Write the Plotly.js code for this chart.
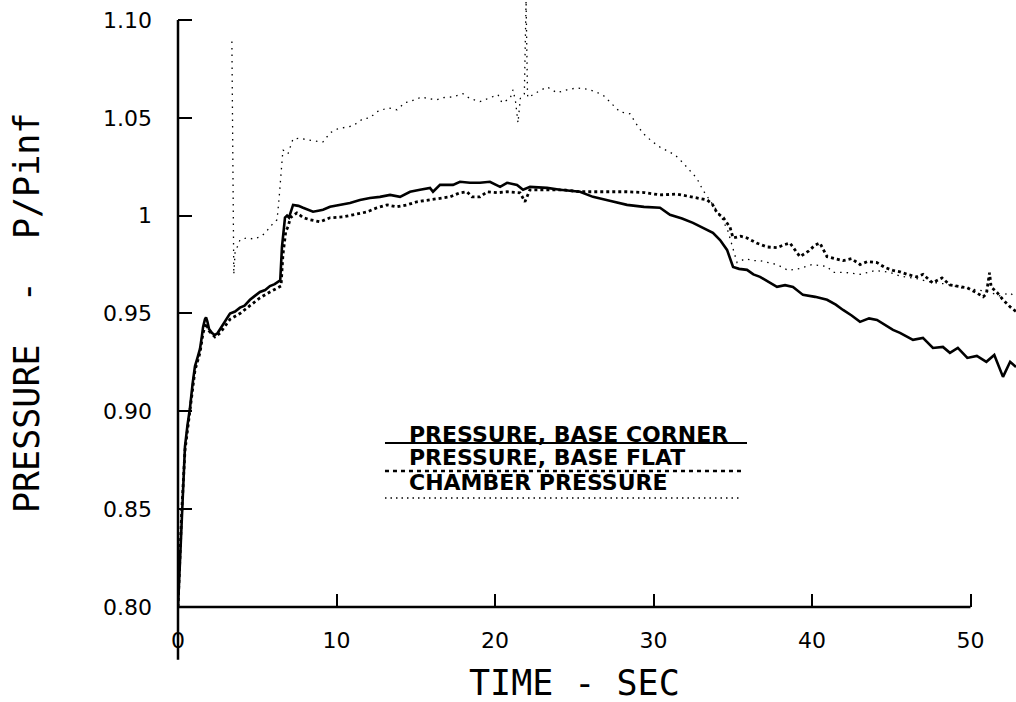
<!DOCTYPE html>
<html>
<head>
<meta charset="utf-8">
<script src="https://cdn.plot.ly/plotly-3.0.1.min.js"></script>
<style>html,body{margin:0;padding:0;background:#fff;}#chart{width:1016px;height:702px;}</style>
</head>
<body>
<div id="chart"></div>
<script>
// ---- data ----
const cornerTime = [0.00,0.08,0.15,0.23,0.33,0.44,0.60,0.76,0.92,1.07,1.25,1.39,1.50,1.58,1.70,1.77,1.85,1.96,2.15,2.33,2.50,2.65,2.95,3.28,3.60,3.91,4.20,4.54,4.85,5.17,5.50,5.80,6.10,6.31,6.45,6.56,6.68,6.75,6.88,7.00,7.26,7.60,7.89,8.20,8.52,8.85,9.15,9.59,10.22,10.85,11.48,12.11,12.74,13.38,14.01,14.64,15.27,15.90,16.09,16.53,17.35,17.79,18.42,19.05,19.68,20.32,20.76,21.39,21.77,22.21,23.28,24.10,25.36,26.18,27.30,28.33,29.40,30.41,31.04,31.80,32.49,33.10,33.75,34.20,34.64,35.02,35.40,35.90,36.30,36.72,37.20,37.79,38.30,38.80,39.43,40.20,40.95,41.50,41.96,42.50,43.03,43.60,44.10,44.60,45.11,45.55,46.37,47.00,47.63,48.26,48.70,49.20,49.80,50.40,51.00,51.50,52.05,52.50,52.87];
const cornerP = [0.800,0.815,0.832,0.848,0.866,0.882,0.893,0.902,0.914,0.923,0.928,0.932,0.938,0.943,0.947,0.948,0.946,0.942,0.940,0.939,0.940,0.942,0.946,0.950,0.951,0.953,0.954,0.957,0.959,0.961,0.962,0.964,0.965,0.966,0.967,0.984,0.996,0.999,1.000,0.999,1.0055,1.005,1.004,1.003,1.002,1.0025,1.003,1.0045,1.0055,1.0065,1.008,1.009,1.0096,1.0106,1.0096,1.0122,1.0132,1.0142,1.0122,1.0157,1.0157,1.0173,1.0168,1.0168,1.0173,1.0147,1.0168,1.0157,1.0132,1.0147,1.0142,1.0132,1.0122,1.0096,1.0075,1.0055,1.0045,1.0040,1.0004,0.9985,0.9963,0.9940,0.9912,0.9875,0.9825,0.9738,0.9728,0.9723,0.9700,0.9687,0.9665,0.9636,0.9645,0.9636,0.9595,0.9585,0.9570,0.9545,0.9518,0.9490,0.9457,0.9475,0.9467,0.9440,0.9416,0.9401,0.9365,0.9375,0.9324,0.9329,0.9299,0.9324,0.9273,0.9283,0.9253,0.9288,0.9176,0.9253,0.9227];

const flatTime = [0.00,0.10,0.23,0.44,0.76,1.07,1.39,1.58,1.77,1.96,2.33,2.65,3.28,3.91,4.54,5.17,5.80,6.31,6.50,6.62,6.80,6.94,7.10,7.50,7.90,8.33,8.96,9.59,10.41,11.04,11.92,12.55,13.19,13.82,14.45,15.08,15.90,16.53,17.16,17.79,18.23,18.55,19.05,19.50,20.13,20.76,21.58,21.89,22.20,23.28,24.29,25.36,26.18,27.30,28.33,29.40,30.41,31.50,32.49,33.38,33.70,34.01,34.40,34.83,35.02,35.50,35.90,36.50,37.16,37.79,38.20,38.61,39.24,39.80,40.20,40.50,40.95,41.96,42.50,43.03,43.50,44.10,44.60,45.11,45.55,46.00,46.60,47.00,47.60,48.20,48.70,49.20,49.80,50.40,50.80,51.00,51.20,51.30,51.70,52.05,52.50,52.87];
const flatP = [0.800,0.822,0.848,0.880,0.900,0.921,0.930,0.940,0.945,0.941,0.938,0.940,0.947,0.950,0.954,0.958,0.961,0.963,0.964,0.980,0.992,0.9943,0.999,1.0014,0.999,0.9979,0.9968,0.9989,0.9994,1.0004,1.0019,1.0040,1.0055,1.0045,1.0055,1.0071,1.0081,1.0091,1.0096,1.0117,1.0122,1.0096,1.0096,1.0122,1.0117,1.0122,1.0117,1.0071,1.0132,1.0132,1.0132,1.0122,1.0122,1.0125,1.0122,1.0118,1.0106,1.0110,1.0096,1.0080,1.0060,1.0014,0.9990,0.9940,0.9886,0.9895,0.9886,0.9860,0.9840,0.9836,0.9850,0.9860,0.9790,0.9820,0.9850,0.9860,0.9790,0.9770,0.9780,0.9750,0.9765,0.9760,0.9735,0.9720,0.9713,0.9700,0.9687,0.9700,0.9657,0.9682,0.9646,0.9640,0.9631,0.9605,0.9585,0.9600,0.9708,0.9636,0.9605,0.9570,0.9534,0.9510];

const chamberTime = [3.40,3.43,3.46,3.49,3.52,3.60,3.91,4.35,4.80,5.17,5.50,5.80,6.25,6.37,6.62,6.94,7.26,7.70,8.14,8.52,9.15,9.59,10.09,11.04,11.67,12.11,12.55,13.25,13.82,14.32,14.64,15.39,15.77,16.34,16.72,17.35,17.98,18.42,19.05,19.68,20.19,20.44,20.95,21.14,21.30,21.45,21.60,21.85,21.96,22.05,22.08,22.71,23.28,23.91,24.54,25.17,25.90,26.44,26.90,27.26,27.89,28.52,28.90,29.34,29.90,30.41,31.36,31.86,32.30,32.74,33.12,33.56,33.90,34.30,34.70,35.00,35.27,35.80,36.30,36.72,37.30,37.79,38.50,39.24,40.00,40.95,41.32,42.10,43.03,44.00,44.92,45.60,46.50,47.50,48.50,49.50,50.50,51.20,51.80,52.50,52.87];
const chamberP = [1.089,1.060,1.030,1.000,0.970,0.981,0.9876,0.9887,0.9880,0.9892,0.9910,0.9943,0.9979,1.0081,1.0336,1.0316,1.0393,1.0395,1.0388,1.0382,1.0377,1.0423,1.0444,1.0459,1.0495,1.0500,1.0531,1.0551,1.0541,1.0577,1.0583,1.0607,1.0598,1.0592,1.0603,1.0607,1.0623,1.0598,1.0583,1.0603,1.0618,1.0577,1.0598,1.0643,1.0580,1.0474,1.0600,1.0620,1.1100,1.0620,1.0603,1.0633,1.0658,1.0628,1.0643,1.0653,1.0645,1.0630,1.0610,1.0580,1.0530,1.0520,1.0470,1.0420,1.0380,1.0350,1.0310,1.0270,1.0230,1.0190,1.0130,1.0080,1.0040,0.9990,0.9920,0.9830,0.9760,0.9780,0.9770,0.9770,0.9760,0.9750,0.9720,0.9730,0.9750,0.9740,0.9710,0.9710,0.9700,0.9720,0.9710,0.9690,0.9680,0.9660,0.9650,0.9630,0.9620,0.9610,0.9590,0.9605,0.9580];

const seriesNames = ['PRESSURE, BASE CORNER', 'PRESSURE, BASE FLAT', 'CHAMBER PRESSURE'];
const xTickVals = [0, 10, 20, 30, 40, 50];
const xTickText = ['0', '10', '20', '30', '40', '50'];
const yTickVals = [0.80, 0.85, 0.90, 0.95, 1.00, 1.05, 1.10];
const yTickText = ['0.80', '0.85', '0.90', '0.95', '1', '1.05', '1.10'];
const xTitle = 'TIME - SEC';
const yTitle = 'PRESSURE  -  P/Pinf';

// ---- layout / styling ----
const xRange = [0, 52.87];
const yRange = [0.80, 1.1102];
const font = 'DejaVu Sans, Liberation Sans, sans-serif';
const monoFont = 'DejaVu Sans Mono, Liberation Mono, monospace';
const yTop = (1.10 - yRange[0]) / (yRange[1] - yRange[0]);
const x50 = (50 - xRange[0]) / (xRange[1] - xRange[0]);

const traces = [
  {x: cornerTime, y: cornerP, name: seriesNames[0], mode: 'lines', line: {color: '#000', width: 2.6}},
  {x: flatTime, y: flatP, name: seriesNames[1], mode: 'lines', line: {color: '#000', width: 2.8, dash: '3px,3px'}},
  {x: chamberTime, y: chamberP, name: seriesNames[2], mode: 'lines', line: {color: '#000', width: 1.3, dash: '1.5px,5px'}}
];

const legY = [0.2834, 0.2463, 0.2051];
const legLineY = [0.2702, 0.2241, 0.1796];
const legX0 = 0.247, legX1 = 0.679, legTextX = 0.2733;

const titleFont = {family: monoFont, size: 35, color: '#000'};
const annotations = seriesNames.map((t, i) => ({
  text: t, xref: 'paper', yref: 'paper', x: legTextX, y: legY[i],
  xanchor: 'left', yanchor: 'middle', showarrow: false,
  font: {family: font, size: 22, color: '#000', weight: 'bold'}
}));
annotations.push({text: xTitle, xref: 'paper', yref: 'paper', x: 0.4737, y: -0.1252,
  xanchor: 'center', yanchor: 'middle', showarrow: false, font: titleFont});
annotations.push({text: yTitle, xref: 'paper', yref: 'paper', x: -0.1802, y: 0.4843,
  xanchor: 'center', yanchor: 'middle', showarrow: false, textangle: -90, font: titleFont});

const layout = {
  width: 1016, height: 702,
  margin: {l: 178, r: 0, t: 0, b: 95},
  paper_bgcolor: '#fff', plot_bgcolor: '#fff',
  showlegend: false,
  font: {family: font, color: '#000'},
  xaxis: {
    range: xRange, showgrid: false, zeroline: false, showline: false,
    tickmode: 'array', tickvals: xTickVals, ticktext: xTickText,
    ticks: 'inside', ticklen: 13, tickwidth: 2, tickcolor: '#000',
    ticklabelstandoff: 18,
    tickfont: {family: font, size: 22, color: '#000'},
    automargin: false
  },
  yaxis: {
    range: yRange, showgrid: false, zeroline: false, showline: false,
    tickmode: 'array', tickvals: yTickVals, ticktext: yTickText,
    ticks: 'inside', ticklen: 14, tickwidth: 2, tickcolor: '#000',
    ticklabelstandoff: 25,
    tickfont: {family: font, size: 22, color: '#000'},
    automargin: false
  },
  shapes: [
    {type: 'line', xref: 'paper', yref: 'paper', x0: 0, x1: 0, y0: -0.087, y1: yTop, line: {color: '#000', width: 2.5}},
    {type: 'line', xref: 'paper', yref: 'paper', x0: 0, x1: x50, y0: 0, y1: 0, line: {color: '#000', width: 2.5}},
    {type: 'line', xref: 'paper', yref: 'paper', x0: legX0, x1: legX1, y0: legLineY[0], y1: legLineY[0], line: {color: '#000', width: 2}},
    {type: 'line', xref: 'paper', yref: 'paper', x0: legX0, x1: legX1 - 0.003, y0: legLineY[1], y1: legLineY[1], line: {color: '#000', width: 2.6, dash: '4px,4px'}},
    {type: 'line', xref: 'paper', yref: 'paper', x0: legX0, x1: legX1 - 0.006, y0: legLineY[2], y1: legLineY[2], line: {color: '#000', width: 1.3, dash: '1.5px,4px'}}
  ],
  annotations: annotations
};

Plotly.newPlot('chart', traces, layout, {displayModeBar: false, staticPlot: true});
</script>
</body>
</html>
